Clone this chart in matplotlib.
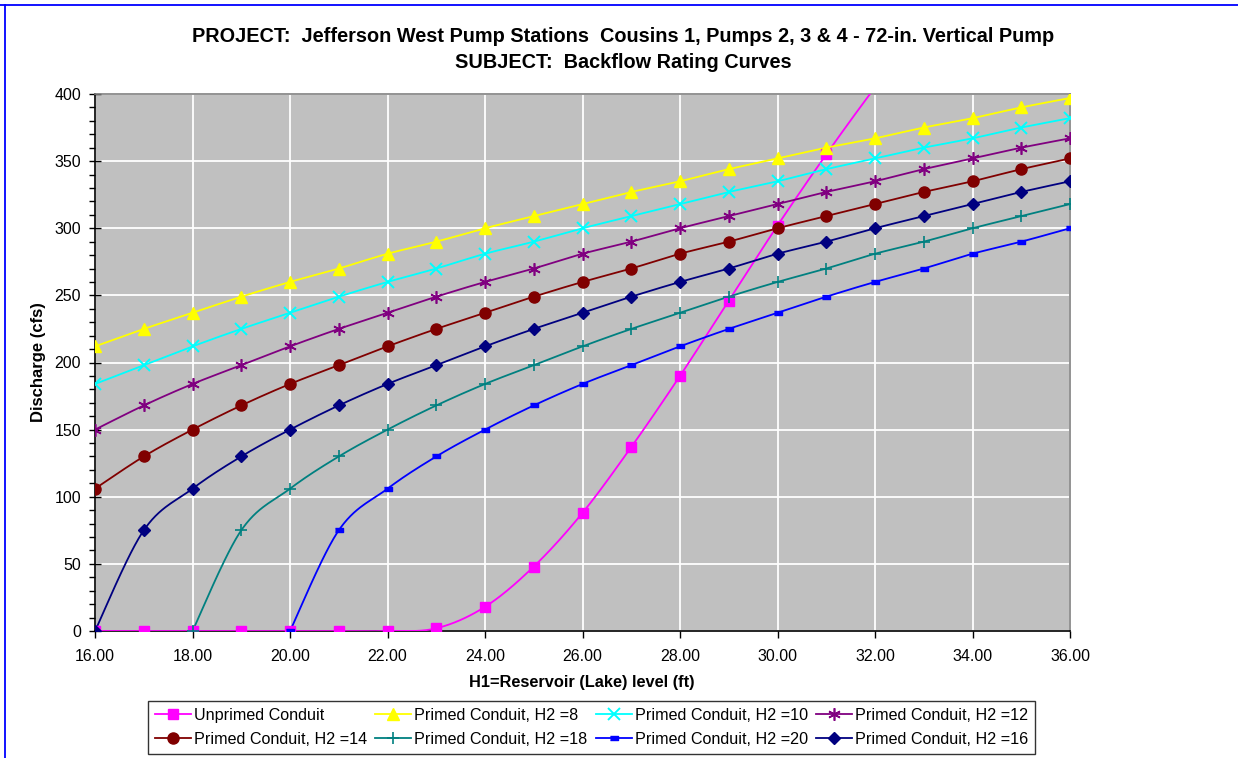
import matplotlib
matplotlib.use("Agg")
import matplotlib.pyplot as plt
from matplotlib.lines import Line2D
from matplotlib.ticker import MultipleLocator, FormatStrFormatter
import numpy as np

plt.rcParams["font.family"] = ["Liberation Sans", "DejaVu Sans"]

# reservoir level H1 (ft)
h1 = [16, 17, 18, 19, 20, 21, 22, 23, 24, 25, 26, 27, 28, 29, 30, 31, 32, 33, 34, 35, 36]

# discharge (cfs)
unprimed = [0, 0, 0, 0, 0, 0, 0, 2, 18, 48, 88, 137, 190, 246, 302, 355, 405, 452]
h2_8 = [212, 225, 237, 249, 260, 270, 281, 290, 300, 309, 318, 327, 335, 344, 352, 360, 367, 375, 382, 390, 397]
h2_10 = [184, 198, 212, 225, 237, 249, 260, 270, 281, 290, 300, 309, 318, 327, 335, 344, 352, 360, 367, 375, 382]
h2_12 = [150, 168, 184, 198, 212, 225, 237, 249, 260, 270, 281, 290, 300, 309, 318, 327, 335, 344, 352, 360, 367]
h2_14 = [106, 130, 150, 168, 184, 198, 212, 225, 237, 249, 260, 270, 281, 290, 300, 309, 318, 327, 335, 344, 352]
h2_18 = [0, 75, 106, 130, 150, 168, 184, 198, 212, 225, 237, 249, 260, 270, 281, 290, 300, 309, 318]
h2_20 = [0, 75, 106, 130, 150, 168, 184, 198, 212, 225, 237, 249, 260, 270, 281, 290, 300]
h2_16 = [0, 75, 106, 130, 150, 168, 184, 198, 212, 225, 237, 249, 260, 270, 281, 290, 300, 309, 318, 327, 335]

series = [
    ("Unprimed Conduit", h1[:len(unprimed)], unprimed, "#FF00FF", dict(marker="s", ms=7)),
    ("Primed Conduit, H2 =8", h1, h2_8, "#FFFF00", dict(marker="^", ms=8)),
    ("Primed Conduit, H2 =10", h1, h2_10, "#00FFFF", dict(marker="x", ms=8, mew=1.4)),
    ("Primed Conduit, H2 =12", h1, h2_12, "#800080", dict(marker=(6, 2, 0), ms=9, mew=1.2)),
    ("Primed Conduit, H2 =14", h1, h2_14, "#800000", dict(marker="o", ms=8)),
    ("Primed Conduit, H2 =18", h1[2:], h2_18, "#008080", dict(marker="+", ms=9, mew=1.2)),
    ("Primed Conduit, H2 =20", h1[4:], h2_20, "#0000FF",
     dict(marker=[(-1, -0.45), (1, -0.45), (1, 0.45), (-1, 0.45)], ms=6)),
    ("Primed Conduit, H2 =16", h1, h2_16, "#000080", dict(marker="D", ms=6.5)),
]


def smooth(xs, ys, n=30):
    # Excel-style smoothed line (Catmull-Rom as cubic Bezier)
    p = np.column_stack([xs, ys]).astype(float)
    p = np.vstack([p[0], p, p[-1]])
    out = []
    t = np.linspace(0, 1, n)[:, None]
    for i in range(1, len(p) - 2):
        a, b = p[i], p[i + 1]
        c1 = a + (p[i + 1] - p[i - 1]) / 6
        c2 = b - (p[i + 2] - p[i]) / 6
        seg = (1 - t) ** 3 * a + 3 * (1 - t) ** 2 * t * c1 + 3 * (1 - t) * t ** 2 * c2 + t ** 3 * b
        out.append(seg)
    out = np.vstack(out)
    return out[:, 0], out[:, 1]


fig = plt.figure(figsize=(12.38, 7.58), dpi=100)
ax = fig.add_axes([95 / 1238, 127 / 758, 975 / 1238, 537 / 758])
ax.set_facecolor("#C0C0C0")

handles = []
for label, xs, ys, color, mk in series:
    sx, sy = smooth(xs, ys)
    ax.plot(sx, sy, color=color, lw=1.3, zorder=3)
    xs_in = [x for x, y in zip(xs, ys) if y <= 400]
    ys_in = [y for y in ys if y <= 400]
    ax.plot(xs_in, ys_in, ls="none", color=color, mfc=color, mec=color, zorder=4, **mk)
    handles.append(Line2D([], [], color=color, lw=1.3, mfc=color, mec=color, **mk, label=label))

ax.set_xlim(16, 36)
ax.set_ylim(0, 400)
ax.xaxis.set_major_locator(MultipleLocator(2))
ax.xaxis.set_major_formatter(FormatStrFormatter("%.2f"))
ax.yaxis.set_major_locator(MultipleLocator(50))
ax.yaxis.set_minor_locator(MultipleLocator(10))
ax.grid(True, which="major", color="white", lw=1.3, zorder=1)
ax.set_axisbelow(True)

ax.tick_params(axis="x", which="major", direction="out", length=5, width=1, labelsize=11.5, pad=8)
ax.tick_params(axis="y", which="major", direction="inout", length=8, width=1, labelsize=11.5, pad=6)
ax.tick_params(axis="y", which="minor", direction="out", length=4, width=1)

ax.spines["left"].set_color("black")
ax.spines["bottom"].set_color("black")
ax.spines["top"].set_color("#808080")
ax.spines["right"].set_color("#808080")
for s in ax.spines.values():
    s.set_linewidth(1.2)

fig.text(623 / 1238, 1 - 37 / 758,
         "PROJECT:  Jefferson West Pump Stations  Cousins 1, Pumps 2, 3 & 4 - 72-in. Vertical Pump",
         ha="center", va="center", fontsize=14.3, fontweight="bold")
fig.text(623 / 1238, 1 - 62 / 758, "SUBJECT:  Backflow Rating Curves",
         ha="center", va="center", fontsize=14.3, fontweight="bold")
fig.text(38 / 1238, 1 - 362 / 758, "Discharge (cfs)", rotation=90,
         ha="center", va="center", fontsize=12, fontweight="bold")
fig.text(582 / 1238, 1 - 683 / 758, "H1=Reservoir (Lake) level (ft)",
         ha="center", va="center", fontsize=11.8, fontweight="bold")

# legend filled column-wise to match the row order of the original
order = [0, 4, 1, 5, 2, 6, 3, 7]
leg = fig.legend([handles[i] for i in order], [handles[i].get_label() for i in order],
                 ncol=4, loc="upper center",
                 bbox_to_anchor=(591.5 / 1238, 1 - 701 / 758),
                 fontsize=11.6, frameon=True, fancybox=False,
                 edgecolor="black", handlelength=2.25, handletextpad=0.18,
                 columnspacing=0.5, borderpad=0.43, labelspacing=0.54, borderaxespad=0)
leg.get_frame().set_linewidth(1.0)

# blue chart-area border on top and left
fig.add_artist(Line2D([0, 1], [1 - 5 / 758, 1 - 5 / 758], color="#0000FF", lw=1.3,
                      transform=fig.transFigure))
fig.add_artist(Line2D([5 / 1238, 5 / 1238], [0, 1 - 5 / 758], color="#0000FF", lw=1.3,
                      transform=fig.transFigure))

fig.savefig("out.png", dpi=100)
